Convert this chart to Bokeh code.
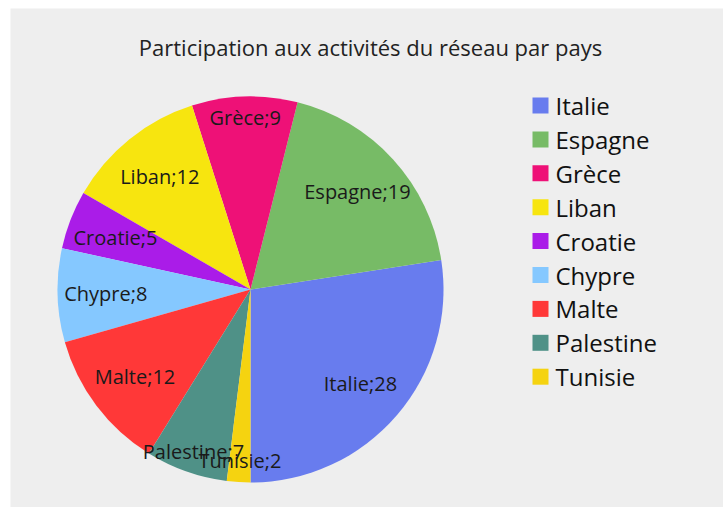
import math
from bokeh.plotting import figure
from bokeh.models import Range1d, ColumnDataSource
from bokeh.core.properties import value
from bokeh.embed import file_html
from bokeh.resources import INLINE

# ---- data ----
countries = ["Italie", "Espagne", "Grèce", "Liban", "Croatie", "Chypre", "Malte", "Palestine", "Tunisie"]
counts = [28, 19, 9, 12, 5, 8, 12, 7, 2]
colors = ["#687CEE", "#77BB66", "#EE1177", "#F7E50F", "#AA1CE8", "#85C8FF", "#FF3838", "#4F9187", "#F5D310"]
title_text = "Participation aux activités du réseau par pays"

W, H = 723, 507
LEFT, TOP = 10, 8
BG = "#EEEEEE"
FONT = "Open Sans"

p = figure(width=W, height=H, output_backend="svg", toolbar_location=None,
           x_range=Range1d(LEFT, W), y_range=Range1d(0, H - TOP),
           background_fill_color=BG, border_fill_color="white",
           min_border=0, min_border_left=LEFT, min_border_top=TOP,
           outline_line_color=None)
p.axis.visible = False
p.grid.visible = False

def py(y):
    # pixel row (from top of page) -> data y
    return H - y

# pie geometry
cx, cy, R = 250, py(289), 193
total = float(sum(counts))
starts, ends, lx, ly, labels = [], [], [], [], []
a = -math.pi / 2
for c, v in zip(countries, counts):
    span = 2 * math.pi * v / total
    s, e = a, a + span
    starts.append(s)
    ends.append(e)
    mid = (s + e) / 2
    frac = 0.89 if abs(math.sin(mid)) > 0.9 else 0.75
    lx.append(cx + frac * R * math.cos(mid))
    ly.append(cy + frac * R * math.sin(mid))
    labels.append(f"{c};{v}")
    a = e

src = ColumnDataSource(dict(start=starts, end=ends, color=colors, lx=lx, ly=ly, label=labels))
p.wedge(x=cx, y=cy, radius=R, start_angle="start", end_angle="end",
        fill_color="color", line_color=None, source=src)
p.text(x="lx", y="ly", text="label", source=src, text_font=value(FONT),
       text_font_size="20px", text_color="#1a1a1a", text_align="center",
       text_baseline="middle")

# title
p.text(x=[370], y=[py(46)], text=[title_text], text_font=value(FONT),
       text_font_size="22px", text_color="#222222", text_align="center",
       text_baseline="middle")

# legend
leg_top, pitch = 105, 33.9
sq_y = [py(leg_top + i * pitch) for i in range(len(countries))]
p.rect(x=[540] * len(countries), y=sq_y, width=16, height=16,
       fill_color=colors, line_color=None)
p.text(x=[555] * len(countries), y=sq_y, text=countries, text_font=value(FONT),
       text_font_size="24px", text_color="#111111", text_align="left",
       text_baseline="middle")

open("out.html", "w").write(file_html(p, INLINE))
